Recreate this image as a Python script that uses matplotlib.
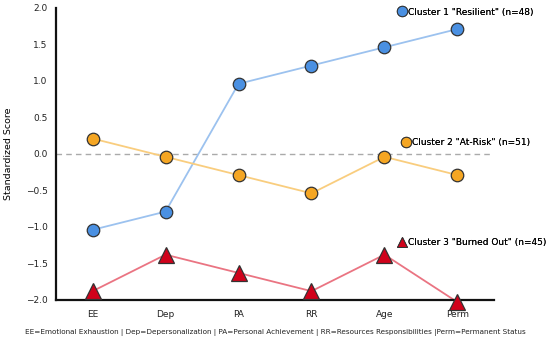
import matplotlib.pyplot as plt
from matplotlib.lines import Line2D

categories = ['EE', 'Dep', 'PA', 'RR', 'Age', 'Perm']
cluster1 = [-1.04, -0.79, 0.96, 1.21, 1.46, 1.71]
cluster2 = [0.21, -0.04, -0.29, -0.54, -0.04, -0.29]
cluster3 = [-1.88, -1.38, -1.63, -1.88, -1.38, -2.03]
labels = ['Cluster 1 "Resilient" (n=48)',
          'Cluster 2 "At-Risk" (n=51)',
          'Cluster 3 "Burned Out" (n=45)']
yticks = [-2.0, -1.5, -1.0, -0.5, 0.0, 0.5, 1.0, 1.5, 2.0]
footnote = ('EE=Emotional Exhaustion | Dep=Depersonalization | PA=Personal Achievement'
            ' | RR=Resources Responsibilities |Perm=Permanent Status')

plt.rcParams['font.family'] = ['DejaVu Sans']

fig = plt.figure(figsize=(5.5, 3.42), dpi=100)
ax = fig.add_axes([0.102, 0.123, 0.796, 0.854])

x = list(range(len(categories)))

# Series: (values, line colour, marker face, marker, size)
series = [
    (cluster1, '#9cc2ef', '#4a90e2', 'o', 9),
    (cluster2, '#f9cd7e', '#f5a623', 'o', 9),
    (cluster3, '#ea7482', '#d0021b', '^', 11),
]

ax.axhline(0, xmax=0.99, color='#aaaaaa', linestyle=(0, (4, 3)), linewidth=1, zorder=1)

handles = []
for vals, lc, fc, mk, ms in series:
    ax.plot(x, vals, color=lc, linewidth=1.3, zorder=2)
    ax.plot(x, vals, linestyle='none', marker=mk, markersize=ms,
            markerfacecolor=fc, markeredgecolor='#333333', markeredgewidth=0.9,
            zorder=3, clip_on=False)
    handles.append(Line2D([], [], linestyle='none', marker=mk,
                          markersize=7.5 if mk == 'o' else 7.5,
                          markerfacecolor=fc, markeredgecolor='#333333',
                          markeredgewidth=0.7))

# Series labels placed beside the lines
anchors = [(0.725, 1 - 12 / 342), (0.732, 1 - 143 / 342), (0.725, 1 - 243 / 342)]
for h, lab, (bx, by) in zip(handles, labels, anchors):
    leg = fig.legend([h], [lab], loc='center left', bbox_to_anchor=(bx, by),
                     frameon=False, handlelength=0.7, handletextpad=0.3,
                     borderpad=0, borderaxespad=0, fontsize=6.5)
    fig.add_artist(leg)

ax.set_xlim(-0.5, 5.5)
ax.set_ylim(-2.0, 2.0)
ax.set_xticks(x)
ax.set_xticklabels(categories)
ax.set_yticks(yticks)
ax.set_yticklabels([f'{v:.1f}'.replace('-', '\u2212') for v in yticks])
ax.tick_params(length=0, labelsize=6.5, colors='#222222')
ax.tick_params(axis='y', pad=6)
ax.tick_params(axis='x', pad=7)
ax.set_ylabel('Standardized Score', fontsize=6.8)
ax.yaxis.set_label_coords(-0.098, 0.5)

for side in ['top', 'right']:
    ax.spines[side].set_visible(False)
for side in ['left', 'bottom']:
    ax.spines[side].set_linewidth(1.6)
    ax.spines[side].set_color('#111111')

fig.text(0.5, 1 - 333 / 342, footnote, ha='center', va='center', fontsize=5.25,
         color='#222222')

fig.savefig('out.png', dpi=100)
